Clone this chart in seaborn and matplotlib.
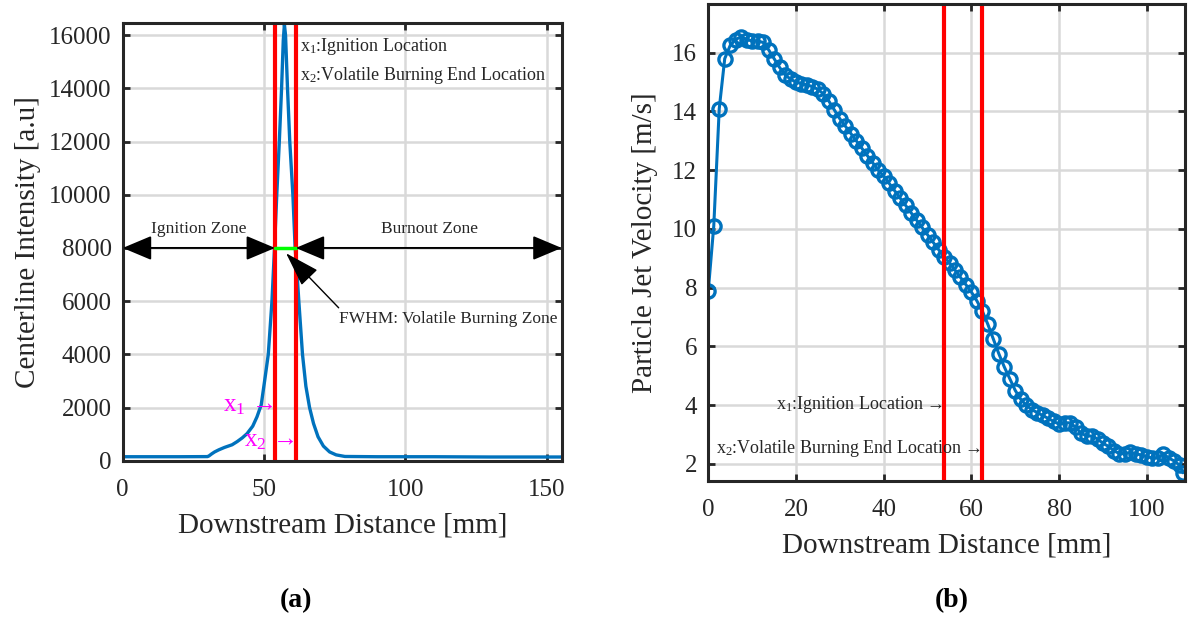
import numpy as np
import pandas as pd
import matplotlib
matplotlib.use("Agg")
import matplotlib.pyplot as plt
import seaborn as sns

# ---------------- data ----------------
# Panel (a): centerline intensity
dist_a = [0, 10, 20, 30, 30.5, 31.5, 32.5, 34, 36, 38.7, 40.5, 42.3, 44, 46, 47.5,
          49, 50.2, 51.5, 52.8, 53.7, 54.5, 55.4, 56.2, 56.8, 57.2, 57.6, 58.3, 59.1,
          60.2, 61.0, 61.7, 62.3, 63.6, 64.8, 66.1, 67.5, 69.1, 71, 73.2, 75.5, 78.6,
          90, 110, 130, 155.3]
intensity_a = [150, 150, 150, 155, 180, 260, 330, 410, 500, 600, 720, 860, 1020, 1300, 1650,
               2100, 3000, 4000, 6000, 8000, 10000, 12000, 14000, 15800, 16400, 16000, 14000, 12000,
               10000, 8000, 7000, 6000, 4000, 2800, 2000, 1400, 900, 550, 330, 220, 160,
               150, 150, 140, 140]

# Panel (b): particle jet velocity
dist_b = [0, 1.25, 2.5, 3.75, 5, 6.25, 7.5, 8.75, 10, 11.25, 12.5, 13.75, 15, 16.25, 17.5,
          18.75, 20, 21.25, 22.5, 23.75, 25, 26.25, 27.5, 28.75, 30, 31.25, 32.5, 33.75,
          35, 36.25, 37.5, 38.75, 40, 41.25, 42.5, 43.75, 45, 46.25, 47.5, 48.75, 50,
          51.25, 52.5, 53.75, 55, 56.25, 57.5, 58.75, 60, 61.25, 62.5, 63.75, 65, 66.25,
          67.5, 68.75, 70, 71.25, 72.5, 73.75, 75, 76.25, 77.5, 78.75, 80, 81.25, 82.5,
          83.75, 85, 86.25, 87.5, 88.75, 90, 91.25, 92.5, 93.75, 95, 96.25, 97.5, 98.75,
          100, 101.25, 102.5, 103.75, 105, 106.25, 107.5, 108.2]
velocity_b = [7.9, 10.1, 14.1, 15.8, 16.25, 16.45, 16.55, 16.45, 16.4, 16.4, 16.35, 16.1, 15.8,
              15.5, 15.25, 15.1, 15.0, 14.95, 14.9, 14.85, 14.75, 14.6, 14.35, 14.05, 13.75,
              13.5, 13.25, 13.0, 12.75, 12.5, 12.25, 12.0, 11.8, 11.55, 11.3, 11.05, 10.8,
              10.55, 10.3, 10.05, 9.8, 9.55, 9.3, 9.05, 8.85, 8.6, 8.35, 8.1, 7.85, 7.55,
              7.2, 6.75, 6.25, 5.75, 5.3, 4.9, 4.5, 4.2, 4.0, 3.85, 3.75, 3.65, 3.55, 3.45,
              3.35, 3.4, 3.4, 3.25, 3.05, 2.95, 2.95, 2.85, 2.7, 2.6, 2.45, 2.35, 2.35, 2.4,
              2.35, 2.3, 2.25, 2.2, 2.2, 2.35, 2.2, 2.1, 1.95, 1.7]

# marker locations
x1_a, x2_a = 53.9, 61.2
x1_b, x2_b = 53.7, 62.3
half_max = 8000

xticks_a = [0, 50, 100, 150]
yticks_a = [0, 2000, 4000, 6000, 8000, 10000, 12000, 14000, 16000]
xticks_b = [0, 20, 40, 60, 80, 100]
yticks_b = [2, 4, 6, 8, 10, 12, 14, 16]

# ---------------- style ----------------
sns.set_style("ticks")
plt.rcParams['font.family'] = ['Liberation Serif', 'DejaVu Serif']
plt.rcParams['mathtext.fontset'] = 'custom'
plt.rcParams['mathtext.rm'] = 'Liberation Serif'
plt.rcParams['mathtext.it'] = 'Liberation Serif:italic'

BLUE = '#0072BD'
RED = '#FF0000'
SPINE = '#262626'
GRID = '#d9d9d9'
TXT = '#262626'

fig = plt.figure(figsize=(11.88, 6.20), dpi=100)
ax1 = fig.add_axes([0.1033, 0.2569, 0.3695, 0.7065])
ax2 = fig.add_axes([0.5962, 0.2247, 0.4013, 0.7689])


def style_axes(ax):
    ax.set_axisbelow(True)
    ax.grid(True, color=GRID, linewidth=1.8)
    for s in ax.spines.values():
        s.set_color(SPINE)
        s.set_linewidth(2.2)
        s.set_visible(True)
    ax.tick_params(direction='in', length=5, width=2, colors=SPINE,
                   labelsize=18, top=True, right=True, labelcolor=TXT)
    ax.tick_params(axis='x', pad=13.5)
    ax.tick_params(axis='y', pad=8)


# ---------------- panel (a) ----------------
df_a = pd.DataFrame({'dist': dist_a, 'intensity': intensity_a})
sns.lineplot(data=df_a, x='dist', y='intensity', ax=ax1, color=BLUE, linewidth=2.4,
             sort=False, estimator=None)
ax1.axvline(x1_a, color=RED, linewidth=3)
ax1.axvline(x2_a, color=RED, linewidth=3)
ax1.plot([x1_a, x2_a], [half_max, half_max], color='#00FF00', linewidth=2.5, zorder=5)

ax1.set_xlim(0, 155.3)
ax1.set_ylim(0, 16470)
ax1.set_xticks(xticks_a)
ax1.set_yticks(yticks_a)
style_axes(ax1)
ax1.set_xlabel('Downstream Distance [mm]', fontsize=21, color=TXT, labelpad=8)
ax1.set_ylabel('Centerline Intensity [a.u]', fontsize=21, color=TXT, labelpad=6)

arrow_kw = dict(arrowstyle='<|-|>,head_length=1.0,head_width=0.42', color='black',
                lw=1.4, shrinkA=0, shrinkB=0, mutation_scale=18)
ax1.annotate('', xy=(x1_a, half_max), xytext=(0, half_max), arrowprops=arrow_kw, zorder=6)
ax1.annotate('', xy=(155.3, half_max), xytext=(x2_a, half_max), arrowprops=arrow_kw, zorder=6)
ax1.text(27.0, 8700, 'Ignition Zone', ha='center', va='center', fontsize=12.5, color=TXT)
ax1.text(108.4, 8700, 'Burnout Zone', ha='center', va='center', fontsize=12.5, color=TXT)

ax1.annotate('', xy=(57.8, 7800), xytext=(76.4, 5750),
             arrowprops=dict(arrowstyle='-|>,head_length=1.1,head_width=0.35', color='black',
                             lw=1.0, shrinkA=0, shrinkB=0, mutation_scale=20), zorder=6)
ax1.text(76.4, 5316, 'FWHM: Volatile Burning Zone', ha='left', va='center',
         fontsize=12.5, color=TXT)

ax1.text(62.7, 15560, 'x$_1$:Ignition Location', ha='left', va='center', fontsize=13, color=TXT)
ax1.text(62.7, 14500, 'x$_2$:Volatile Burning End Location', ha='left', va='center',
         fontsize=13, color=TXT)

ax1.text(53.2, 2050, 'x$_1$ \u2192', ha='right', va='center', fontsize=18, color='#FF00FF')
ax1.text(60.5, 750, 'x$_2$ \u2192', ha='right', va='center', fontsize=18, color='#FF00FF')

# ---------------- panel (b) ----------------
df_b = pd.DataFrame({'dist': dist_b, 'velocity': velocity_b})
sns.lineplot(data=df_b, x='dist', y='velocity', ax=ax2, color=BLUE, linewidth=2.2,
             marker='o', markersize=9.5, markerfacecolor='none', markeredgecolor=BLUE,
             markeredgewidth=2.4, sort=False, estimator=None, clip_on=True)
ax2.axvline(x1_b, color=RED, linewidth=3)
ax2.axvline(x2_b, color=RED, linewidth=3)

ax2.set_xlim(0, 108.7)
ax2.set_ylim(1.43, 17.66)
ax2.set_xticks(xticks_b)
ax2.set_yticks(yticks_b)
style_axes(ax2)
ax2.set_xlabel('Downstream Distance [mm]', fontsize=21, color=TXT, labelpad=8)
ax2.set_ylabel('Particle Jet Velocity [m/s]', fontsize=21, color=TXT, labelpad=10)

ax2.text(x1_b - 0.2, 4.04, 'x$_1$:Ignition Location \u2192', ha='right', va='center',
         fontsize=13, color=TXT)
ax2.text(x2_b - 0.2, 2.54, 'x$_2$:Volatile Burning End Location \u2192', ha='right',
         va='center', fontsize=13, color=TXT)

# panel labels
fig.text(0.249, 0.032, '(a)', ha='center', va='center', fontsize=20, fontweight='bold', color='black')
fig.text(0.801, 0.031, '(b)', ha='center', va='center', fontsize=20, fontweight='bold', color='black')

fig.savefig('out.png', dpi=100)
